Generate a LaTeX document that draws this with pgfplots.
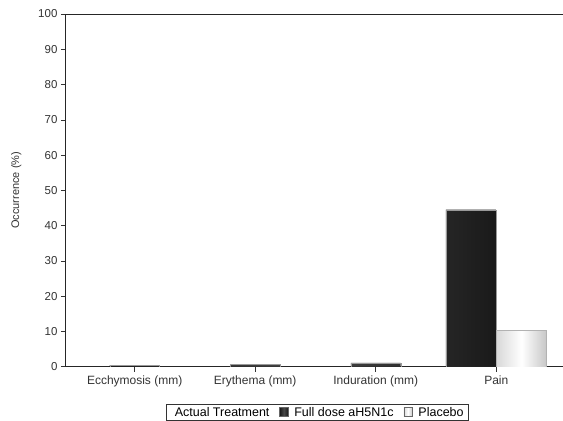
\documentclass[border=0pt]{standalone}
\usepackage{pgfplots}
\pgfplotsset{compat=1.18}
\usepackage{fontspec}
\setmainfont{Liberation Sans}

\begin{document}
\begin{tikzpicture}
\begin{axis}[
  scale only axis,
  width=497pt, height=353pt,
  xmin=-0.57, xmax=3.55,
  ymin=0, ymax=100,
  ytick={0,10,...,100},
  xtick={0,1,2,3},
  xticklabels={Ecchymosis (mm),Erythema (mm),Induration (mm),Pain},
  axis x line=box,
  axis y line*=left,
  xtick pos=bottom,
  tick align=outside,
  major tick length=5pt,
  axis line style={black!85, line width=0.9pt},
  tick style={black!80, line width=0.6pt},
  xticklabel style={font=\fontsize{12}{14}\selectfont, text=black!80},
  yticklabel style={font=\fontsize{11.5}{14}\selectfont, text=black!80},
  /pgf/number format/assume math mode=true,
  ylabel={Occurrence (\%)},
  ylabel style={font=\fontsize{11}{13}\selectfont, text=black!80},
  ylabel shift=10pt,
  xticklabel shift=1pt,
  ybar, bar width=0.414, bar shift=0pt,
  legend columns=3,
  legend style={at={(0.506,-0.13)}, anchor=center, draw=black!80, line width=0.6pt,
    font=\fontsize{12.5}{14}\selectfont, inner xsep=2.5pt, inner ysep=0.5pt,
    /tikz/every odd column/.append style={column sep=4pt},
    /tikz/every even column/.append style={column sep=8pt}},
  legend image code/.code={\draw[#1, draw=black!60, line width=0.4pt] (0pt,-3.5pt) rectangle (8.5pt,5pt);},
  legend cell align=left,
]
\addlegendimage{empty legend}
\addlegendentry{Actual Treatment\hspace{8pt}}
% Full dose aH5N1c
\addplot[draw=black!40, line width=0.3pt, left color=black!90, right color=black!90, middle color=black!72]
  coordinates {(0,0.4) (1,0.7) (2,1.1) (2.79,44.5)};
\addlegendentry{Full dose aH5N1c}
% Placebo
\addplot[draw=black!30, line width=0.3pt, left color=black!15, right color=black!22, middle color=white]
  coordinates {(3.21,10.4)};
\addlegendentry{Placebo}
\end{axis}
\path (current axis.south west) ++(-66pt,-54pt) rectangle ++(563pt,421pt);
\end{tikzpicture}
\end{document}
